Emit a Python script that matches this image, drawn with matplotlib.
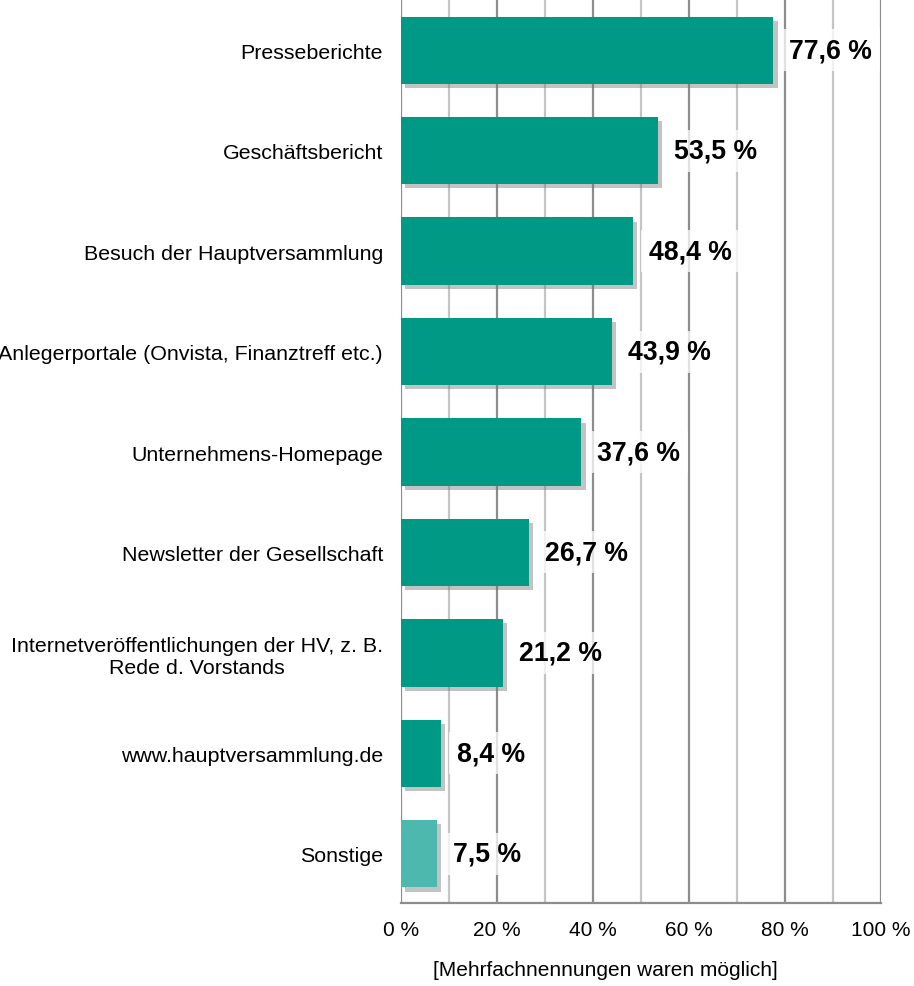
import matplotlib
matplotlib.use("Agg")
import matplotlib.pyplot as plt
import matplotlib.patheffects as pe

plt.rcParams['font.family'] = ['Liberation Sans', 'DejaVu Sans']

# data, top to bottom
categories = [
    "Presseberichte",
    "Geschäftsbericht",
    "Besuch der Hauptversammlung",
    "Anlegerportale (Onvista, Finanztreff etc.)",
    "Unternehmens-Homepage",
    "Newsletter der Gesellschaft",
    "Internetveröffentlichungen der HV, z. B.\nRede d. Vorstands",
    "www.hauptversammlung.de",
    "Sonstige",
]
values = [77.6, 53.5, 48.4, 43.9, 37.6, 26.7, 21.2, 8.4, 7.5]
value_labels = ["77,6 %", "53,5 %", "48,4 %", "43,9 %", "37,6 %",
                "26,7 %", "21,2 %", "8,4 %", "7,5 %"]
xticks = [0, 20, 40, 60, 80, 100]
xtick_labels = ["0 %", "20 %", "40 %", "60 %", "80 %", "100 %"]

colors = ["#009985"] * 8 + ["#4db8ad"]

fig = plt.figure(figsize=(9.14, 9.87), dpi=100)
ax = fig.add_axes([401 / 914, 83 / 987, 480 / 914, 904 / 987])

# vertical grid, darker at every 20 %
for x in range(0, 101, 10):
    c = "#8c8c8c" if x % 20 == 0 else "#c4c4c4"
    ax.axvline(x, color=c, lw=1.6, zorder=0)

ypos = list(range(len(categories)))
bars = ax.barh(ypos, values, height=0.67, color=colors, zorder=2)
for b in bars:
    b.set_path_effects([pe.SimplePatchShadow(offset=(3, -3), shadow_rgbFace="#7a7a7a", alpha=0.45),
                        pe.Normal()])

for y, v, lab in zip(ypos, values, value_labels):
    ax.annotate(lab, (v, y), xytext=(11.5, 0), textcoords="offset points",
                ha="left", va="center", fontsize=19.2, fontweight="bold", zorder=3,
                bbox=dict(boxstyle="square,pad=0.3", fc="white", ec="none", alpha=0.75))

ax.set_xlim(0, 100)
ax.set_ylim(len(categories) - 0.51, -0.51)
ax.set_yticks(ypos)
ax.set_yticklabels(categories, fontsize=15.4)
for t in ax.get_yticklabels():
    t.set_multialignment("center")
ax.set_xticks(xticks)
ax.set_xticklabels(xtick_labels, fontsize=15)
ax.tick_params(axis="both", length=0)
ax.tick_params(axis="y", pad=13)
ax.tick_params(axis="x", pad=12.5)

for s in ["top", "right", "left"]:
    ax.spines[s].set_visible(False)
ax.spines["bottom"].set_color("#8c8c8c")
ax.spines["bottom"].set_linewidth(1.6)

ax.set_xlabel("[Mehrfachnennungen waren möglich]", fontsize=15)
ax.xaxis.set_label_coords((605 - 401) / 480, -57 / 904)

fig.savefig("out.png", dpi=100)
